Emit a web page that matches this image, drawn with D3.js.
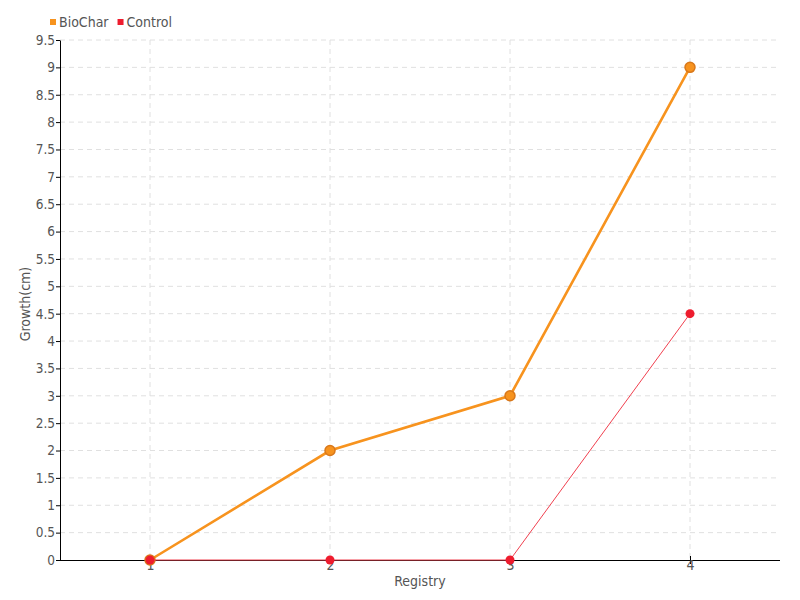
<!DOCTYPE html>
<html><head><meta charset="utf-8">
<script src="https://cdn.jsdelivr.net/npm/d3@7/dist/d3.min.js"></script>
<style>
body{margin:0;background:#fff;}
text{font-family:"DejaVu Sans Condensed","Roboto",sans-serif;fill:#555;}
</style></head><body>
<svg id="c" width="800" height="600"></svg>
<script>
const registry = [1, 2, 3, 4];
const seriesNames = ["BioChar", "Control"];
const biochar = [0, 2, 3, 9];
const control = [0, 0, 0, 4.5];
const yTicks = d3.range(0, 9.51, 0.5);
const colors = {BioChar: "#f7931e", Control: "#ee1c2e"};

const svg = d3.select("#c");
const m = {l: 60, r: 20, t: 40, b: 40};
const W = 800, H = 600;
const x = d3.scaleLinear().domain([0.5, 4.5]).range([m.l, W - m.r]);
const y = d3.scaleLinear().domain([0, 9.5]).range([H - m.b, m.t]);

// grid
const g = svg.append("g");
g.selectAll("line.h").data(yTicks.slice(1)).join("line")
  .attr("x1", m.l).attr("x2", W - m.r)
  .attr("y1", d => y(d)).attr("y2", d => y(d))
  .attr("stroke", "#e0e0e0").attr("stroke-dasharray", "5,4");
g.selectAll("line.v").data(registry).join("line")
  .attr("x1", d => x(d)).attr("x2", d => x(d))
  .attr("y1", m.t).attr("y2", H - m.b)
  .attr("stroke", "#e0e0e0").attr("stroke-dasharray", "5,4");

// axes
const yAxis = svg.append("g").attr("transform", `translate(${m.l},0)`)
  .call(d3.axisLeft(y).tickValues(yTicks).tickFormat(d => d3.format("")(d)).tickSize(4).tickSizeOuter(0));
yAxis.select(".domain").attr("stroke", "#000");
yAxis.selectAll(".tick line").attr("stroke", "#000");
yAxis.selectAll("text").attr("font-size", 13.5).attr("x", -5);

const xAxis = svg.append("g").attr("transform", `translate(0,${H - m.b})`)
  .call(d3.axisBottom(x).tickValues(registry).tickFormat(d3.format("d")).tickSizeInner(4).tickSizeOuter(0));
xAxis.select(".domain").attr("stroke", "#000").attr("d", `M${m.l},0.5H${W - m.r}`);
xAxis.selectAll(".tick line").attr("stroke", "#000").attr("y1", -4).attr("y2", 4);
xAxis.selectAll("text").attr("font-size", 14).attr("dy", "0.45em").attr("y", 4);

svg.append("text").attr("x", (m.l + W - m.r) / 2).attr("y", 586)
  .attr("text-anchor", "middle").attr("font-size", 14).text("Registry");
svg.append("text").attr("transform", `translate(30,${(m.t + H - m.b) / 2 + 4}) rotate(-90)`)
  .attr("text-anchor", "middle").attr("font-size", 14).text("Growth(cm)");

const line = d3.line().x((d, i) => x(registry[i])).y(d => y(d));

// BioChar
svg.append("path").datum(biochar).attr("d", line)
  .attr("fill", "none").attr("stroke", colors.BioChar).attr("stroke-width", 2.6);
svg.selectAll("circle.b").data(biochar).join("circle")
  .attr("cx", (d, i) => x(registry[i])).attr("cy", d => y(d)).attr("r", 5)
  .attr("fill", colors.BioChar).attr("stroke", "#d9781a").attr("stroke-width", 1.5);

// Control
svg.append("path").datum(control).attr("d", line)
  .attr("fill", "none").attr("stroke", "#f0404f").attr("stroke-width", 1);
svg.selectAll("circle.c").data(control).join("circle")
  .attr("cx", (d, i) => x(registry[i])).attr("cy", d => y(d)).attr("r", 4.5)
  .attr("fill", colors.Control);

// legend
const lg = svg.append("g").attr("transform", "translate(50,22)");
let off = 0;
seriesNames.forEach((n, i) => {
  const gg = lg.append("g").attr("transform", `translate(${off},0)`);
  gg.append("rect").attr("x", 0).attr("y", -3).attr("width", 6).attr("height", 6).attr("fill", colors[n]);
  const t = gg.append("text").attr("x", 9).attr("y", 0).attr("dy", "0.35em").attr("font-size", 14).text(n);
  off += 9 + t.node().getComputedTextLength() + 9;
});
</script>
</body></html>
